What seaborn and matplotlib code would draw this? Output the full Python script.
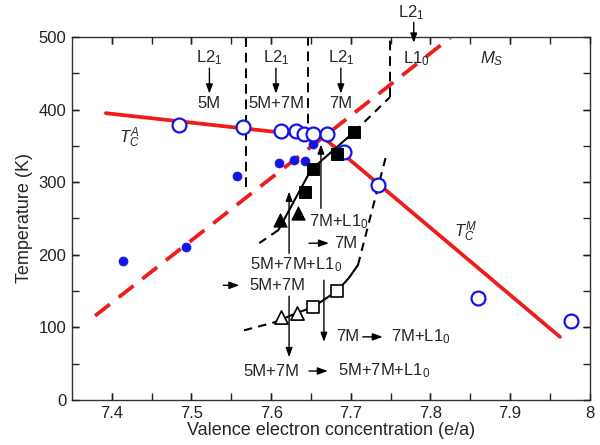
import numpy as np
import pandas as pd
import matplotlib
matplotlib.use("Agg")
import matplotlib.pyplot as plt
import seaborn as sns

sns.set_theme(style="ticks")
plt.rcParams['font.family'] = ['Liberation Sans', 'DejaVu Sans']
plt.rcParams['mathtext.fontset'] = 'custom'
plt.rcParams['mathtext.rm'] = 'Liberation Sans'
plt.rcParams['mathtext.it'] = 'Liberation Sans:italic'
plt.rcParams['mathtext.bf'] = 'Liberation Sans:bold'
plt.rcParams['axes.axisbelow'] = False

# ---------------- data ----------------
# Curie temperatures (open blue circles)
tc_x = [7.484, 7.565, 7.6125, 7.631, 7.641, 7.6525, 7.670, 7.691, 7.734, 7.860, 7.976]
tc_T = [379, 376, 370, 370, 366, 366, 366, 342, 296, 140, 109]
# Martensitic start (filled blue dots)
ms_x = [7.414, 7.4925, 7.5575, 7.610, 7.629, 7.6425, 7.6525]
ms_T = [191, 211, 308, 326, 331, 329, 353]
# 7M+L1_0 -> 7M (filled squares)
sq_f_x = [7.6425, 7.6525, 7.6825, 7.704]
sq_f_T = [287, 318, 339, 369]
# 5M+7M+L1_0 -> 5M+7M (filled triangles)
tri_f_x = [7.611, 7.634]
tri_f_T = [248, 258]
# 7M -> 7M+L1_0 (open squares)
sq_o_x = [7.6525, 7.6825]
sq_o_T = [128, 150]
# 5M+7M -> 5M+7M+L1_0 (open triangles)
tri_o_x = [7.6125, 7.6325]
tri_o_T = [114, 120]

# fitted lines
tcline_x = [7.3925, 7.665, 7.9625]
tcline_T = [395, 362, 87]
msline_x = [7.379, 7.825]
msline_T = [116, 499]

# black boundary (upper)
b1_dash_lo_x = [7.585, 7.609]
b1_dash_lo_T = [216, 234]
b1_solid_x = [7.609, 7.650, 7.704]
b1_solid_T = [234, 317, 369]
b1_dash_hi_x = [7.704, 7.749]
b1_dash_hi_T = [369, 417]
# black boundary (lower)
b2_dash_lo_x = [7.566, 7.604]
b2_dash_lo_T = [96, 107]
b2_solid_x = [7.604, 7.6325, 7.6525, 7.6825, 7.6975, 7.709]
b2_solid_T = [107, 120, 128, 150, 168, 186]
b2_dash_hi_x = [7.709, 7.744]
b2_dash_hi_T = [186, 335]

# vertical phase boundaries
vx = [7.569, 7.646, 7.749]
vT_low = [293, 360, 417]

# phase labels
top_phase_x = [7.5225, 7.606, 7.6875]
top_phase_lab = ['5M', '5M+7M', '7M']

# ticks
xmajor = [7.4, 7.5, 7.6, 7.7, 7.8, 7.9, 8.0]
xmajor_lab = ['7.4', '7.5', '7.6', '7.7', '7.8', '7.9', '8']
xminor = [7.45, 7.55, 7.65, 7.75, 7.85, 7.95]
ymajor = [0, 100, 200, 300, 400, 500]
yminor = [50, 150, 250, 350, 450]

RED = '#ee1c1c'
BLUE = '#1414e6'

fig = plt.figure(figsize=(6.0, 4.45), dpi=100)
ax = fig.add_axes([0.12, 0.101, 0.863, 0.816])

def line(x, y, color, lw, ls='-'):
    sns.lineplot(x=x, y=y, sort=False, estimator=None, color=color, lw=lw,
                 linestyle=ls, ax=ax, legend=False)

# vertical dashed lines
for x0, t0 in zip(vx, vT_low):
    line([x0, x0], [t0, 500], 'black', 1.4, (0, (5, 3)))

line(msline_x, msline_T, RED, 2.7, (0, (5, 3)))
line(tcline_x, tcline_T, RED, 2.7)

line(b1_dash_lo_x, b1_dash_lo_T, 'black', 1.5, (0, (4, 3)))
line(b1_solid_x, b1_solid_T, 'black', 1.5)
line(b1_dash_hi_x, b1_dash_hi_T, 'black', 1.5, (0, (4, 3)))
line(b2_dash_lo_x, b2_dash_lo_T, 'black', 1.5, (0, (4, 3)))
line(b2_solid_x, b2_solid_T, 'black', 1.5)
line(b2_dash_hi_x, b2_dash_hi_T, 'black', 1.5, (0, (4, 3)))

sns.scatterplot(x=ms_x, y=ms_T, color=BLUE, s=42, marker='o', edgecolor=BLUE, ax=ax, zorder=5)
sns.scatterplot(x=tc_x, y=tc_T, s=100, marker='o', facecolor='white', edgecolor=BLUE,
                linewidth=1.6, ax=ax, zorder=6)
sns.scatterplot(x=sq_f_x, y=sq_f_T, color='black', s=70, marker='s', edgecolor='black', ax=ax, zorder=6)
sns.scatterplot(x=tri_f_x, y=tri_f_T, color='black', s=90, marker='^', edgecolor='black', ax=ax, zorder=6)
sns.scatterplot(x=sq_o_x, y=sq_o_T, s=70, marker='s', facecolor='white', edgecolor='black',
                linewidth=1.2, ax=ax, zorder=6)
sns.scatterplot(x=tri_o_x, y=tri_o_T, s=90, marker='^', facecolor='white', edgecolor='black',
                linewidth=1.2, ax=ax, zorder=6)

ax.set_xlim(7.35, 8.0)
ax.set_ylim(0, 500)
for s in ax.spines.values():
    s.set_visible(True)
    s.set_color('#333333')
    s.set_linewidth(1.0)
ax.set_xlabel('Valence electron concentration (e/a)', fontsize=13, labelpad=1)
ax.set_ylabel('Temperature (K)', fontsize=13, labelpad=4)

FS = 12
arr = dict(arrowstyle='-|>,head_length=0.55,head_width=0.2', color='black', lw=1.0,
           mutation_scale=10, shrinkA=0, shrinkB=0)
harr = dict(arrowstyle='-|>,head_length=0.6,head_width=0.22', color='black', lw=1.0,
            mutation_scale=10, shrinkA=0, shrinkB=0)

# top phase labels
for xc, lab in zip(top_phase_x, top_phase_lab):
    ax.text(xc, 472, r'L2$_1$', ha='center', va='center', fontsize=FS)
    ax.annotate('', xy=(xc, 422), xytext=(xc, 457), arrowprops=arr)
    ax.text(xc, 408, lab, ha='center', va='center', fontsize=FS)

ax.text(7.776, 533, r'L2$_1$', ha='center', va='center', fontsize=FS, clip_on=False)
ax.annotate('', xy=(7.779, 492), xytext=(7.779, 520), arrowprops=arr, annotation_clip=False)
ax.text(7.782, 470, r'L1$_0$', ha='center', va='center', fontsize=FS)
ax.text(7.877, 470, r'$M_S$', ha='center', va='center', fontsize=FS)
ax.text(7.4225, 361, r'$T_C^A$', ha='center', va='center', fontsize=FS)
ax.text(7.8440, 231, r'$T_C^M$', ha='center', va='center', fontsize=FS)

# transition annotations
ax.text(7.6475, 245, r'7M+L1$_0$', ha='left', va='center', fontsize=FS)
ax.annotate('', xy=(7.6725, 216), xytext=(7.6475, 216), arrowprops=harr)
ax.text(7.679, 216, '7M', ha='left', va='center', fontsize=FS)

ax.text(7.5735, 187, r'5M+7M+L1$_0$', ha='left', va='center', fontsize=FS)
ax.annotate('', xy=(7.560, 158), xytext=(7.540, 158), arrowprops=harr)
ax.text(7.5725, 158, '5M+7M', ha='left', va='center', fontsize=FS)

ax.text(7.681, 87, '7M', ha='left', va='center', fontsize=FS)
ax.annotate('', xy=(7.740, 87), xytext=(7.715, 87), arrowprops=harr)
ax.text(7.750, 87, r'7M+L1$_0$', ha='left', va='center', fontsize=FS)

ax.text(7.565, 40, '5M+7M', ha='left', va='center', fontsize=FS)
ax.annotate('', xy=(7.671, 40), xytext=(7.6475, 40), arrowprops=harr)
ax.text(7.684, 40, r'5M+7M+L1$_0$', ha='left', va='center', fontsize=FS)

# vertical transition arrows
ax.annotate('', xy=(7.6225, 287), xytext=(7.6225, 202), arrowprops=arr)
ax.annotate('', xy=(7.6625, 352), xytext=(7.6625, 264), arrowprops=arr)
ax.annotate('', xy=(7.6225, 59), xytext=(7.6225, 143), arrowprops=arr)
ax.annotate('', xy=(7.66625, 80), xytext=(7.66625, 165), arrowprops=arr)

# ticks (labels from the axis, tick marks also drawn explicitly on all four sides)
ax.set_xticks(xmajor)
ax.set_xticklabels(xmajor_lab)
ax.set_yticks(ymajor)
ax.xaxis.set_ticks_position('both')
ax.yaxis.set_ticks_position('both')
ax.tick_params(which='both', direction='in', length=5, width=1.0, colors='#222222',
               top=True, bottom=True, left=True, right=True, labelsize=12, pad=4)
xt = ax.get_xaxis_transform()
yt = ax.get_yaxis_transform()
tick_x = [v for v in xmajor + xminor if 7.35 < v < 8.0]
tick_y = [v for v in ymajor + yminor if 0 < v < 500]
ax.vlines(tick_x, 0, 0.019, transform=xt, colors='#222222', lw=1.0, zorder=10, clip_on=False)
ax.vlines(tick_x, 0.981, 1, transform=xt, colors='#222222', lw=1.0, zorder=10, clip_on=False)
ax.hlines(tick_y, 0, 0.0135, transform=yt, colors='#222222', lw=1.0, zorder=10, clip_on=False)
ax.hlines(tick_y, 0.9865, 1, transform=yt, colors='#222222', lw=1.0, zorder=10, clip_on=False)

fig.savefig('out.png', dpi=100)
